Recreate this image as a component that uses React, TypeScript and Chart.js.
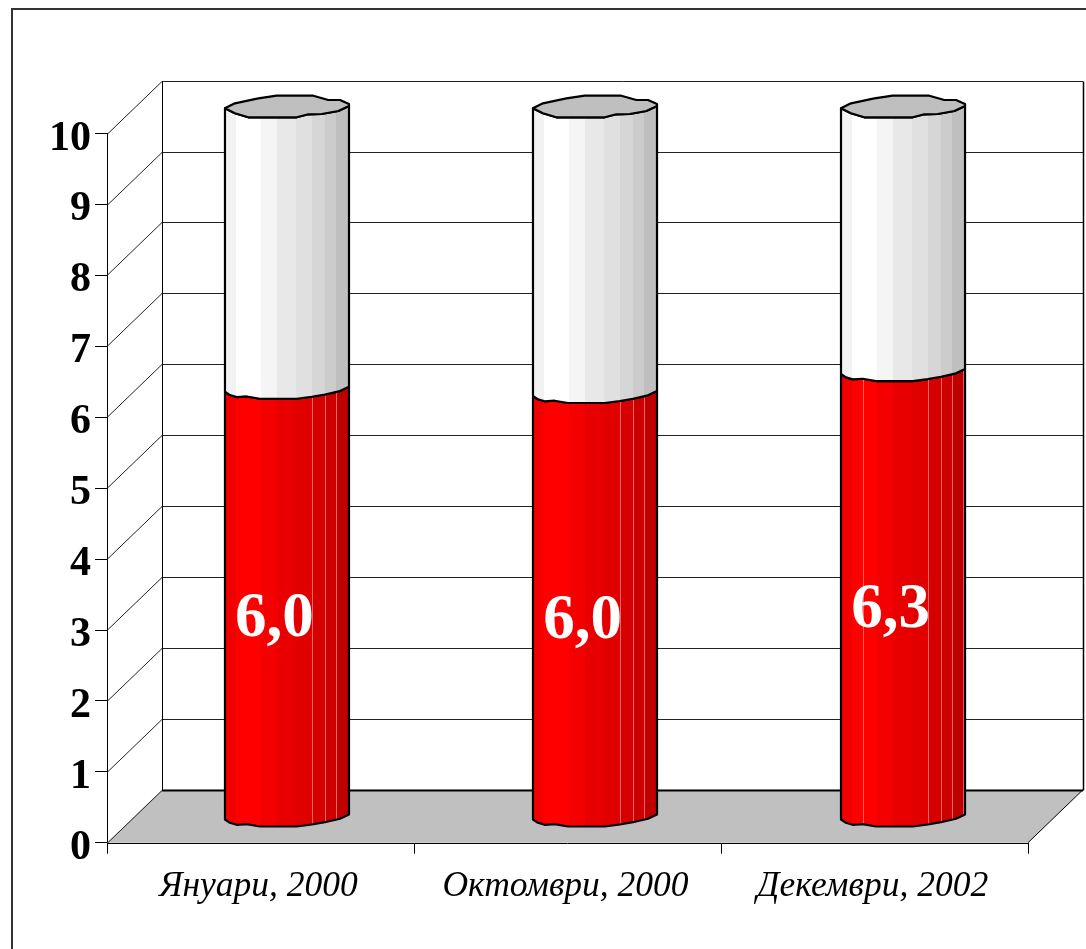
import React, { useEffect, useRef } from "react";
import { Chart, registerables } from "chart.js";

Chart.register(...registerables);

const categories = ["Януари, 2000", "Октомври, 2000", "Декември, 2002"];
const lowerValues = [6.04, 5.98, 6.29];
const upperValues = [3.96, 4.02, 3.71];
const yMax = 10;

const SERIF = '"Liberation Serif", "Times New Roman", serif';
const DEPTH_X = 55;
const DEPTH_Y = 53;
const SPREAD = 0.0033;

const BAND_STOPS = [0, 0.09, 0.29, 0.417, 0.573, 0.7, 0.806, 0.893, 1];
const BAND_LEVELS = [242, 255, 245, 232, 224, 214, 204, 191];
const SEAMS = [0.7, 0.806, 0.895];
const SEAMS_LAST_BAR = [0.18, 0.985];

const EDGE_FRONT: [number, number][] = [
  [0, -22.7], [0.04, -19.4], [0.094, -17.4], [0.175, -18], [0.282, -15.7],
  [0.578, -15.7], [0.7, -17.7], [0.806, -20], [0.927, -23.4], [1, -27.7],
];
const TOP_FRONT: [number, number][] = [
  [0, -25.4], [0.08, -20.4], [0.188, -16.4], [0.578, -16.4],
  [0.672, -19.4], [0.78, -19.7], [0.914, -22.7], [1, -27.7],
];
const TOP_BACK: [number, number][] = [
  [0, -25.4], [0.08, -30.4], [0.269, -35.4], [0.417, -38],
  [0.712, -38], [0.833, -33.7], [0.927, -33.7], [1, -29.7],
];

const frame3d = {
  id: "frame3d",
  afterUpdate(chart: any) {
    const { chartArea, scales } = chart;
    scales.y.getLabelItems(chartArea).forEach((it: any) => {
      it.options.translation[1] += 5;
    });
    scales.x.getLabelItems(chartArea).forEach((it: any) => {
      it.options.translation[0] -= 2;
    });
  },
  beforeDraw(chart: any) {
    const { ctx, canvas } = chart;
    ctx.save();
    ctx.fillStyle = "#fff";
    ctx.fillRect(0, 0, canvas.width, canvas.height);
    ctx.strokeStyle = "#333";
    ctx.lineWidth = 2;
    ctx.beginPath();
    ctx.moveTo(12, canvas.height);
    ctx.lineTo(12, 9);
    ctx.lineTo(canvas.width, 9);
    ctx.stroke();
    ctx.restore();
  },
  beforeDatasetsDraw(chart: any) {
    const { ctx, chartArea: a, scales } = chart;
    const y = scales.y;
    const bx = a.left + DEPTH_X;
    const brx = a.right + DEPTH_X;
    ctx.save();
    // floor
    ctx.fillStyle = "#c0c0c0";
    ctx.beginPath();
    ctx.moveTo(a.left, a.bottom);
    ctx.lineTo(bx, a.bottom - DEPTH_Y);
    ctx.lineTo(brx, a.bottom - DEPTH_Y);
    ctx.lineTo(a.right, a.bottom);
    ctx.closePath();
    ctx.fill();
    // grid on back wall and left wall
    ctx.strokeStyle = "#222";
    ctx.lineWidth = 1;
    for (let v = 0; v <= yMax; v++) {
      const py = Math.round(y.getPixelForValue(v)) + 0.5;
      const by = Math.round(y.getPixelForValue(v) - DEPTH_Y) + 0.5;
      ctx.beginPath();
      ctx.moveTo(a.left, py);
      ctx.lineTo(bx, by);
      ctx.stroke();
      if (v > 0) {
        ctx.beginPath();
        ctx.moveTo(bx, by);
        ctx.lineTo(brx, by);
        ctx.stroke();
      }
    }
    // back wall outline
    const topY = Math.round(y.getPixelForValue(yMax) - DEPTH_Y) + 0.5;
    const botY = Math.round(y.getPixelForValue(0) - DEPTH_Y) + 0.5;
    ctx.strokeStyle = "#000";
    ctx.beginPath();
    ctx.moveTo(bx + 0.5, botY);
    ctx.lineTo(bx + 0.5, topY);
    ctx.stroke();
    ctx.lineWidth = 1.5;
    ctx.beginPath();
    ctx.moveTo(brx + 0.5, topY);
    ctx.lineTo(brx + 0.5, botY);
    ctx.stroke();
    ctx.lineWidth = 2;
    ctx.beginPath();
    ctx.moveTo(bx, botY);
    ctx.lineTo(brx, botY);
    ctx.stroke();
    // floor edges
    ctx.lineWidth = 1;
    ctx.beginPath();
    ctx.moveTo(a.right, a.bottom);
    ctx.lineTo(brx, a.bottom - DEPTH_Y);
    ctx.stroke();
    ctx.beginPath();
    ctx.moveTo(a.left, Math.round(a.bottom) + 0.5);
    ctx.lineTo(a.right, Math.round(a.bottom) + 0.5);
    ctx.stroke();
    ctx.restore();
  },
  afterDatasetsDraw(chart: any) {
    const { ctx, chartArea: a } = chart;
    const lower = chart.getDatasetMeta(0).data;
    const upper = chart.getDatasetMeta(1).data;
    const midX = (a.left + a.right) / 2;
    const centre = (x: number) => x + DEPTH_X / 2 + (x - midX) * SPREAD;

    const tracePart = (
      left: number, w: number, yTop: number, yBase: number,
      topEdge: [number, number][],
    ) => {
      ctx.beginPath();
      topEdge.forEach(([f, d], i) => {
        const px = left + f * w;
        const py = yTop + d;
        if (i === 0) ctx.moveTo(px, py);
        else ctx.lineTo(px, py);
      });
      for (let i = EDGE_FRONT.length - 1; i >= 0; i--) {
        const [f, d] = EDGE_FRONT[i];
        ctx.lineTo(left + f * w, yBase + d);
      }
      ctx.closePath();
    };

    const drawPart = (el: any, idx: number, kind: "red" | "white", topEdge: [number, number][]) => {
      const { x, y, base, width } = el.getProps(["x", "y", "base", "width"], true);
      const left = centre(x) - width / 2;
      ctx.save();
      tracePart(left, width, y, base, topEdge);
      ctx.save();
      ctx.clip();
      BAND_LEVELS.forEach((lv, i) => {
        ctx.fillStyle = kind === "red" ? `rgb(${lv},0,0)` : `rgb(${lv},${lv},${lv})`;
        const x0 = Math.round(left + BAND_STOPS[i] * width);
        const x1 = Math.round(left + BAND_STOPS[i + 1] * width);
        ctx.fillRect(x0, y - 60, x1 - x0 + 1, base - y + 80);
      });
      if (kind === "red") {
        ctx.strokeStyle = "rgba(255,170,170,0.6)";
        ctx.lineWidth = 1;
        const seams = idx === categories.length - 1 ? SEAMS.concat(SEAMS_LAST_BAR) : SEAMS;
        seams.forEach((f) => {
          const sx = Math.round(left + f * width) + 0.5;
          ctx.beginPath();
          ctx.moveTo(sx, y - 60);
          ctx.lineTo(sx, base + 20);
          ctx.stroke();
        });
      }
      ctx.restore();
      ctx.strokeStyle = "#000";
      ctx.lineWidth = 2.2;
      ctx.lineJoin = "round";
      tracePart(left, width, y, base, topEdge);
      ctx.stroke();
      ctx.restore();
    };

    lower.forEach((el: any, i: number) => drawPart(el, i, "red", EDGE_FRONT));
    upper.forEach((el: any, idx: number) => {
      drawPart(el, idx, "white", TOP_FRONT);
      const { x, y, width } = el.getProps(["x", "y", "width"], true);
      const left = centre(x) - width / 2;
      ctx.save();
      ctx.beginPath();
      TOP_BACK.forEach(([f, d], i) => {
        if (i === 0) ctx.moveTo(left + f * width, y + d);
        else ctx.lineTo(left + f * width, y + d);
      });
      for (let i = TOP_FRONT.length - 1; i >= 0; i--) {
        const [f, d] = TOP_FRONT[i];
        ctx.lineTo(left + f * width, y + d);
      }
      ctx.closePath();
      ctx.fillStyle = "#bfbfbf";
      ctx.fill();
      ctx.strokeStyle = "#000";
      ctx.lineWidth = 2.2;
      ctx.lineJoin = "round";
      ctx.stroke();
      ctx.restore();
    });

    // value labels
    ctx.save();
    ctx.font = `bold 63px ${SERIF}`;
    ctx.fillStyle = "#fff";
    ctx.textAlign = "center";
    ctx.textBaseline = "alphabetic";
    lower.forEach((el: any, i: number) => {
      const { x, y, base } = el.getProps(["x", "y", "base"], true);
      const label = lowerValues[i].toFixed(1).replace(".", ",");
      ctx.fillText(label, centre(x) - 12.5, (y + base) / 2 + 8);
    });
    ctx.restore();
  },
};

export default function App() {
  const ref = useRef<HTMLCanvasElement | null>(null);
  useEffect(() => {
    const chart = new Chart(ref.current as HTMLCanvasElement, {
      type: "bar",
      data: {
        labels: categories,
        datasets: [
          { label: "Долу", data: lowerValues, backgroundColor: "transparent", borderWidth: 0, categoryPercentage: 1, barPercentage: 0.404 },
          { label: "Горе", data: upperValues, backgroundColor: "transparent", borderWidth: 0, categoryPercentage: 1, barPercentage: 0.404 },
        ],
      },
      options: {
        animation: false,
        responsive: false,
        devicePixelRatio: 1,
        layout: { padding: { left: 47, top: 133.7, right: 58, bottom: 26.3 } },
        plugins: { legend: { display: false }, tooltip: { enabled: false }, title: { display: false } },
        scales: {
          x: {
            stacked: true,
            afterFit: (s: any) => { s.height = 80; },
            border: { display: false },
            grid: { offset: true, drawOnChartArea: false, drawTicks: true, tickLength: 11, color: "#000", lineWidth: 1 },
            ticks: {
              color: "#000",
              padding: 12,
              maxRotation: 0,
              autoSkip: false,
              font: { family: SERIF, size: 35.5, style: "italic", weight: "normal" },
            },
          },
          y: {
            stacked: true,
            min: 0,
            max: yMax,
            afterFit: (s: any) => { s.width = 60; },
            border: { display: true, color: "#000", width: 1 },
            grid: { drawOnChartArea: false, drawTicks: true, tickLength: 12, color: "#000", lineWidth: 1 },
            ticks: {
              color: "#000",
              padding: 4,
              stepSize: 1,
              font: { family: SERIF, size: 42, weight: "bold" },
            },
          },
        },
      },
      plugins: [frame3d],
    } as any);
    return () => chart.destroy();
  }, []);
  return (
    <div style={{ position: "absolute", left: 0, top: 0, width: 1086, height: 949, overflow: "hidden" }}>
      <canvas ref={ref} width={1086} height={949} style={{ display: "block" }} />
    </div>
  );
}
